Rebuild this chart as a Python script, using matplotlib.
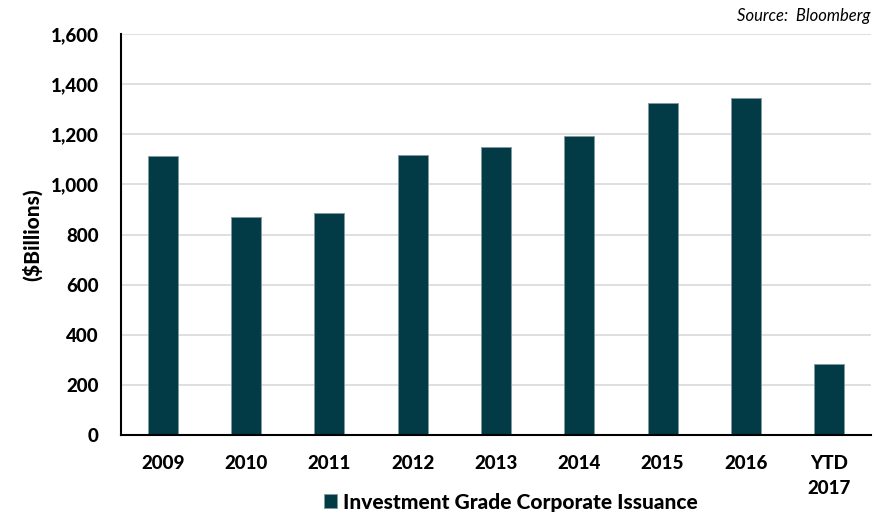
import matplotlib.pyplot as plt
import numpy as np

# data
years = ["2009", "2010", "2011", "2012", "2013", "2014", "2015", "2016", "YTD\n2017"]
issuance = [1112, 871, 885, 1118, 1149, 1192, 1324, 1345, 282]

bar_color = "#023a45"
plt.rcParams['font.family'] = ['Lato', 'DejaVu Sans']

fig = plt.figure(figsize=(8.84, 5.23), dpi=100)
ax = fig.add_axes([0.137, 0.168, 0.848, 0.767])

x = np.arange(len(years))
ax.bar(x, issuance, width=0.36, color=bar_color, edgecolor="#7f9aa0", linewidth=0.6,
       label="Investment Grade Corporate Issuance", zorder=3)

ax.set_xlim(-0.5, len(years) - 0.5)
ax.set_ylim(0, 1600)
ax.set_yticks(np.arange(0, 1601, 200))
ax.set_yticklabels([f"{v:,}" for v in range(0, 1601, 200)], fontsize=13.5, fontweight="black")
ax.set_xticks(x)
ax.set_xticklabels(years, fontsize=13.5, fontweight="black", linespacing=1.6)
ax.tick_params(axis="both", length=0)
ax.tick_params(axis="x", pad=14)
ax.tick_params(axis="y", pad=16)
ax.set_ylabel("($Billions)", fontsize=15, fontweight="black", labelpad=6)

ax.grid(axis="y", color="#d9d9d9", linewidth=1.2, zorder=0)
for s in ["top", "right"]:
    ax.spines[s].set_visible(False)
ax.spines["left"].set_linewidth(1.5)
ax.spines["bottom"].set_linewidth(1.5)
ax.spines["left"].set_zorder(4)
ax.spines["bottom"].set_zorder(4)

fig.text(0.985, 0.985, "Source:  Bloomberg", ha="right", va="top", fontsize=12, style="italic")

leg = fig.legend(loc="lower center", bbox_to_anchor=(0.578, -0.014), frameon=False,
                 prop={"size": 15, "weight": "black"}, handlelength=0.65, handleheight=0.65,
                 handletextpad=0.3)

fig.savefig("out.png", dpi=100)
